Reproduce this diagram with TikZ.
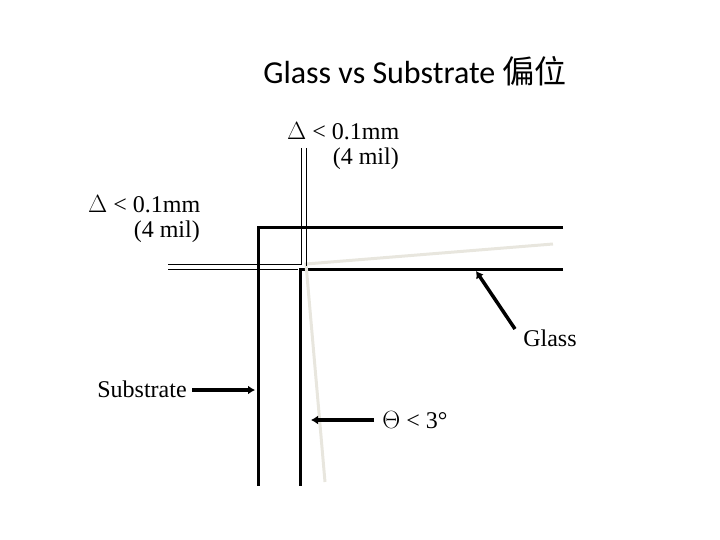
\documentclass[tikz,border=0pt]{standalone}
\usepackage{fontspec}
\usetikzlibrary{arrows.meta}
\setmainfont{Liberation Serif}
\newfontfamily\titlefont{Carlito}
\newfontfamily\cjk{Noto Sans CJK TC}
\definecolor{glassgrey}{RGB}{232,230,222}
\begin{document}
\begin{tikzpicture}[x=1pt,y=-1pt,
  thick line/.style={line width=3pt},
  glass line/.style={line width=3pt,color=glassgrey},
  thin line/.style={line width=0.8pt},
  lbl/.style={font=\fontsize{24}{25}\selectfont,inner sep=0pt,align=left},
  arr/.style={line width=3.5pt,-{Latex[length=7pt,width=9pt]}}]
\useasboundingbox (0,0) rectangle (720,540);
\node (title) at (415,71) {\titlefont\fontsize{32}{34}\selectfont Glass vs Substrate \cjk 偏位};
% outer black (substrate)
\coordinate (o1) at (563,228); \coordinate (oc) at (258,228); \coordinate (o2) at (258,486);
\draw[thick line] (o1) -- (oc) -- (o2);
\coordinate (i1) at (563,269); \coordinate (ic) at (300,269); \coordinate (i2) at (300,486);
\draw[thick line] (i1) -- (ic) -- (i2);
% glass
\coordinate (g1) at (553,244); \coordinate (gc) at (306,264); \coordinate (g2) at (325,482);
\draw[glass line] (g1) -- (gc) -- (g2);
% double thin dimension lines
\coordinate (v1a) at (301,148); \coordinate (v1b) at (301,264);
\coordinate (v2a) at (306,148); \coordinate (v2b) at (306,266);
\coordinate (h1a) at (168,264);
\draw[thin line] (v1a) -- (v1b) -- (h1a);
\draw[thin line] (v2a) -- (v2b);
\coordinate (h2a) at (168,269); \coordinate (h2b) at (298,269);
\draw[thin line] (h2a) -- (h2b);
% labels
\node[lbl,anchor=north west] (d1) at (287,122) {$\Delta$ < 0.1mm\\\hspace{1.9em}(4 mil)};
\node[lbl,anchor=north west] (d2) at (88,195) {$\Delta$ < 0.1mm\\\hspace{1.9em}(4 mil)};
\node[lbl] (glass) at (550,338) {Glass};
\node[lbl] (sub) at (142,389) {Substrate};
\node[lbl] (theta) at (415,420) {$\Theta$ < 3°};
\coordinate (gs) at (515,329); \coordinate (gt) at (476,271);
\coordinate (ss) at (192,390); \coordinate (st) at (255,390);
\coordinate (ts) at (374,420); \coordinate (tt) at (311,420);
\draw[arr] (gs) -- (gt);
\draw[arr] (ss) -- (st);
\draw[arr] (ts) -- (tt);
\end{tikzpicture}
\end{document}
